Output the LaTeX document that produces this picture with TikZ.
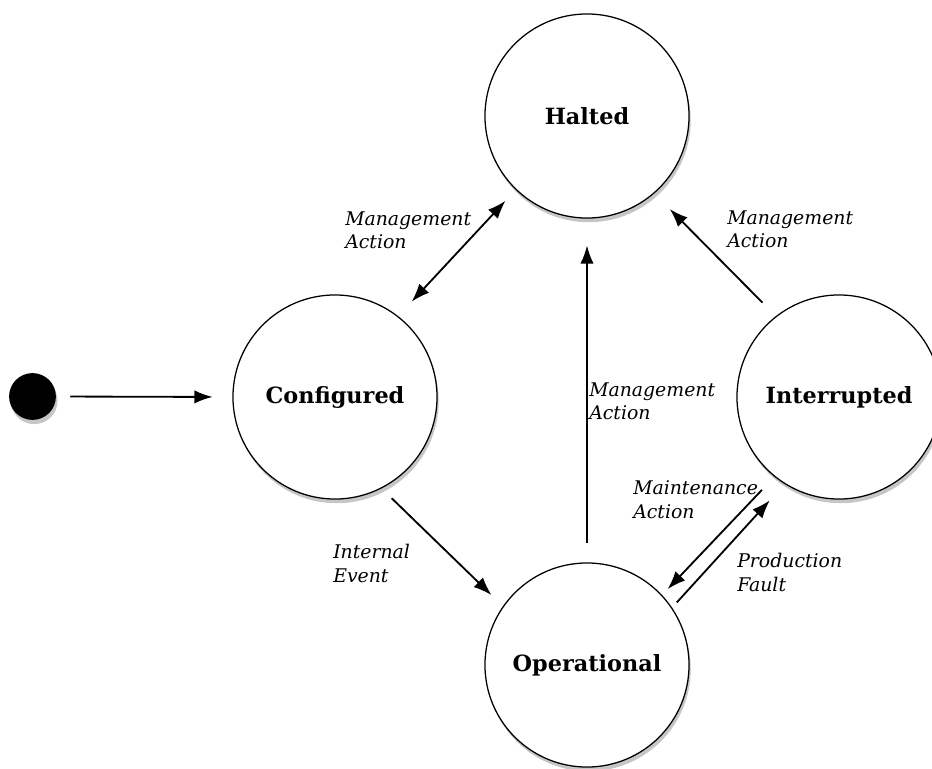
\documentclass[tikz,border=0pt]{standalone}
\usepackage{fontspec}
\setmainfont{DejaVu Serif}
\usetikzlibrary{arrows.meta,shadows}

\tikzset{
	state/.style={circle, draw, line width=0.9pt, fill=white, minimum size=5.1cm, inner sep=0pt,
		font=\fontsize{15.9}{18}\selectfont\bfseries,
		drop shadow={opacity=0.45, shadow xshift=1.2pt, shadow yshift=-3pt}},
	initial/.style={circle, fill=black, minimum size=1.17cm, inner sep=0pt,
		drop shadow={opacity=0.45, shadow xshift=1.2pt, shadow yshift=-3pt}},
	trans/.style={line width=1.3pt, >={Latex[length=13pt,width=9.5pt]}},
	lbl/.style={anchor=north west, inner sep=0pt, align=left,
		font=\fontsize{13.4}{17}\selectfont\itshape}
}

\begin{document}
\begin{tikzpicture}[x=0.025cm, y=-0.025cm]
			\useasboundingbox (0,0) rectangle (932,768);
			
			% states
			\node[initial] (init) at (32.5,396.5) {};
			\node[state] (configured) at (335,397) {Configured};
			\node[state] (halted) at (587,116) {Halted};
			\node[state] (interrupted) at (839,397) {Interrupted};
			\node[state] (operational) at (587,665) {Operational};
			
			% transitions
			\draw[trans, ->, shorten <=10pt, shorten >=14pt] (init.east) -- (configured.west);
			\draw[trans, <->, shorten <=14pt, shorten >=10.6pt] (configured.52) -- (halted.226);
			\draw[trans, ->, shorten <=13.5pt, shorten >=19pt] (operational.north) -- (halted.south);
			\draw[trans, ->, shorten <=13.5pt, shorten >=15.6pt] (interrupted.128) -- (halted.311);
			\draw[trans, ->, shorten <=10pt, shorten >=11.3pt] (configured.297) -- (operational.145);
			\draw[trans, ->, shorten <=12.8pt, shorten >=5.7pt] (interrupted.231) -- (operational.43);
			\draw[trans, ->, shorten <=5pt, shorten >=15.6pt] (operational.34) -- (interrupted.238.5);
			
			% labels
			\node[lbl] (lblconf) at (345,211) {Management\\Action};
			\node[lbl] (lblint) at (727,210) {Management\\Action};
			\node[lbl] (lblop) at (589,382) {Management\\Action};
			\node[lbl] (lblmaint) at (633,480) {Maintenance\\Action};
			\node[lbl] (lblevent) at (333,544) {Internal\\Event};
			\node[lbl] (lblfault) at (737,553) {Production\\Fault};
			
		\end{tikzpicture}
\end{document}
